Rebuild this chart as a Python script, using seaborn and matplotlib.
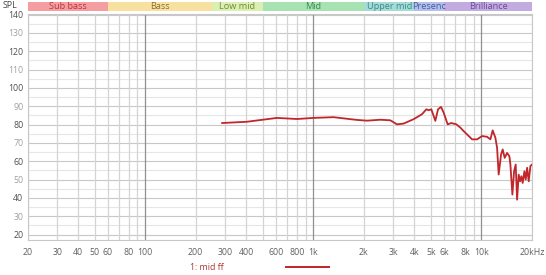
import matplotlib
matplotlib.use("Agg")
import matplotlib.pyplot as plt
import seaborn as sns
import pandas as pd
import numpy as np

sns.set_theme(style="white")
plt.rcParams['font.family'] = ['Open Sans', 'DejaVu Sans']

# Frequency response "1: mid ff"
freq_hz = [286, 403, 608, 800, 1003, 1320, 1819, 2087, 2505, 2872, 3148, 3446,
           3952, 4434, 4704, 4856, 5038, 5322, 5522, 5754, 5964, 6300, 6627,
           7096, 7497, 7845, 8802, 9425, 10094, 10808, 11310, 11674, 12112,
           12398, 12672, 13096, 13386, 13758, 14218, 14674, 14876, 15288,
           15650, 15996, 16306, 16666, 16992, 17298, 17606, 18024, 18348,
           18702, 19118, 19568, 20000]
spl_db = [80.8, 81.5, 83.6, 83.0, 83.6, 84.0, 82.5, 82.1, 82.6, 82.3, 80.1, 80.5,
          82.9, 85.6, 88.3, 87.8, 88.3, 82.0, 88.3, 89.6, 86.5, 80.1, 80.8,
          80.1, 78.3, 76.4, 71.9, 71.9, 73.7, 73.3, 71.9, 76.8, 72.8,
          67.3, 52.7, 63.7, 66.4, 61.8, 64.5, 62.7, 58.2, 41.8,
          54.5, 58.2, 39.0, 52.7, 49.0, 51.8, 48.1, 54.5, 50.0,
          56.4, 49.0, 57.3, 58.2]

band_names = ["Sub bass", "Bass", "Low mid", "Mid", "Upper mid", "Presenc", "Brilliance"]
band_edges = [20, 60, 250, 500, 2000, 4000, 6000, 20000]
band_fill = ["#f59ea2", "#f8e09e", "#dcefb2", "#a6e2b2", "#a4dbd7", "#b2c0ea", "#c2acdf"]
band_text = ["#b8343c", "#8a7030", "#6a8a30", "#3a8a50", "#3a8a8a", "#4a5aa8", "#6a4a9a"]

x_ticks = [20, 30, 40, 50, 60, 80, 100, 200, 300, 400, 600, 800, 1000,
           2000, 3000, 4000, 5000, 6000, 8000, 10000, 20000]
x_tick_labels = ["20", "30", "40", "50", "60", "80", "100", "200", "300", "400",
                 "600", "800", "1k", "2k", "3k", "4k", "5k", "6k", "8k", "10k", "20kHz"]
y_ticks = list(range(20, 141, 10))

df = pd.DataFrame({"freq": freq_hz, "spl": spl_db, "series": "1: mid ff"})

fig = plt.figure(figsize=(5.46, 2.75), dpi=100)
W, H = 546, 275
left, right = 27.6 / W, 532 / W
ax = fig.add_axes([left, 1 - 240 / H, right - left, (240 - 13.6) / H])
bax = fig.add_axes([left, 1 - 11 / H, right - left, 9 / H])

# grid
ax.set_xscale("log")
ax.set_xlim(20, 20000)
ax.set_ylim(17, 140.5)
for y in range(20, 141, 5):
    c = "#c8c8c8" if y % 10 == 0 else "#e6e6e6"
    ax.axhline(y, color=c, lw=0.8, zorder=0)
vlines = [20, 30, 40, 50, 60, 70, 80, 90, 100, 200, 300, 400, 500, 600, 700, 800, 900,
          1000, 2000, 3000, 4000, 5000, 6000, 7000, 8000, 9000, 10000, 20000]
for v in vlines:
    c = "#909090" if v in (100, 1000, 10000) else "#d4d4d4"
    ax.axvline(v, color=c, lw=0.9, zorder=0)

sns.lineplot(data=df, x="freq", y="spl", ax=ax, color="#c0262a", lw=1.3,
             legend=False, zorder=3)

ax.set_xticks(x_ticks)
ax.set_xticklabels(x_tick_labels)
ax.xaxis.set_minor_locator(matplotlib.ticker.NullLocator())
ax.set_yticks(y_ticks)
ax.set_yticklabels([str(v) for v in y_ticks])
for lbl, v in zip(ax.get_yticklabels(), y_ticks):
    lbl.set_color("#505050" if v % 20 == 0 else "#a0a0a0")
for lbl in ax.get_xticklabels():
    lbl.set_color("#606060")
ax.tick_params(axis="both", length=0, labelsize=6.3, pad=3)
ax.tick_params(axis="x", pad=6)
ax.set_xlabel("")
ax.set_ylabel("")
for s in ax.spines.values():
    s.set_color("#c8c8c8")
    s.set_linewidth(0.8)

# band bar
bax.set_xscale("log")
bax.set_xlim(20, 20000)
bax.set_ylim(0, 1)
for name, lo, hi, fc, tc in zip(band_names, band_edges[:-1], band_edges[1:], band_fill, band_text):
    bax.axvspan(lo, hi, color=fc, lw=0)
    bax.text(np.sqrt(lo * hi), 0.45, name, ha="center", va="center", fontsize=6.6, color=tc)
bax.set_xticks([])
bax.set_yticks([])
for s in bax.spines.values():
    s.set_visible(False)

fig.text(10 / W, 1 - 6 / H, "SPL", ha="center", va="center", fontsize=6.3, color="#404040")

# legend
fig.text(190 / W, 1 - 267 / H, "1: mid ff", ha="left", va="center", fontsize=6.3, color="#b03030")
leg_ax = fig.add_axes([285 / W, 1 - 270 / H, 45 / W, 6 / H])
leg_ax.plot([0, 1], [0.5, 0.5], color="#c0262a", lw=1.4)
leg_ax.set_xlim(0, 1)
leg_ax.set_ylim(0, 1)
leg_ax.axis("off")

fig.savefig("out.png", dpi=100, facecolor="white")
